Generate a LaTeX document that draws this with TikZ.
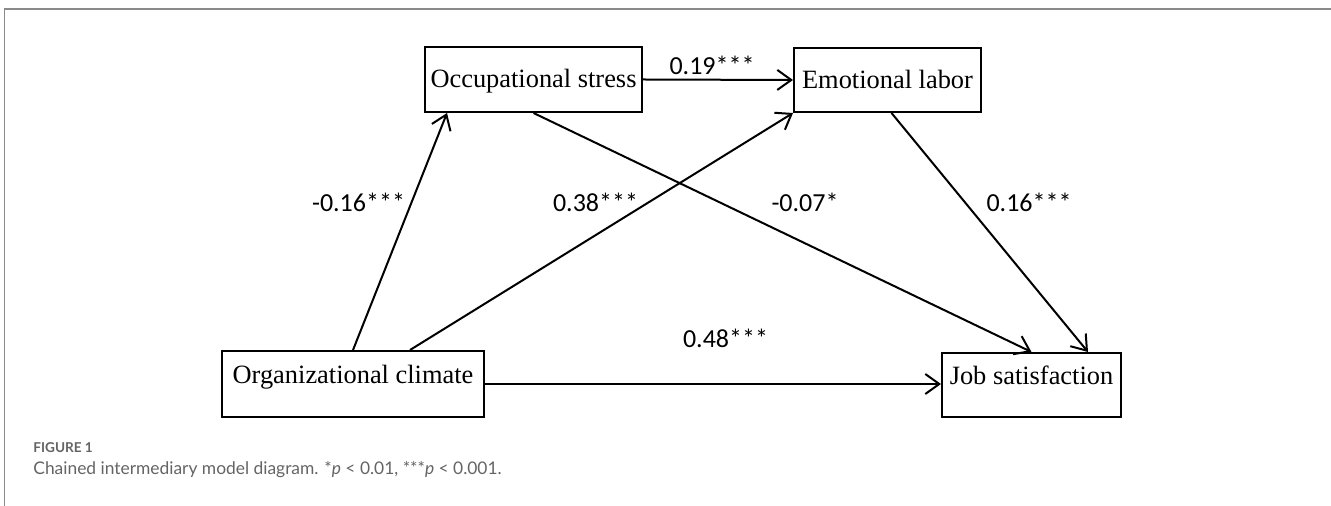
\documentclass[tikz,border=0pt]{standalone}
\usepackage{fontspec}
\setmainfont{Liberation Serif}
\newfontfamily\coeffont{Carlito}
\newfontfamily\capfont{Lato}
\usetikzlibrary{arrows.meta}
\definecolor{framegray}{HTML}{8A8A8A}
\definecolor{capgray}{HTML}{646464}
\begin{document}
\begin{tikzpicture}[x=0.5pt, y=-0.5pt, >={Straight Barb[length=7pt,width=10pt]}]
	\tikzset{box/.style={draw, line width=1pt, inner sep=0pt, font=\fontsize{13.2}{15}\selectfont},
		topbox/.style={box, text height=9pt, text depth=0.5pt},
		lowbox/.style={box, text height=9pt, text depth=9pt},
		path/.style={->, line width=1pt},
		coef/.style={anchor=base, inner sep=0pt, font=\coeffont\fontsize{13}{15}\selectfont}}
	\useasboundingbox (0,0) rectangle (1331,506);
	% --- 1. Khung ---
	\draw[framegray, line width=0.75pt] (4,9) -- (1331,9);
	\draw[framegray, line width=0.5pt] (4,9) -- (4,506);
	% --- 2. Các biến ---
	\node[topbox, minimum width=108.5pt, minimum height=32.5pt] (occ) at (533.5,79.5) {Occupational stress};
	\node[topbox, minimum width=93.5pt, minimum height=32pt] (emo) at (887.5,80) {Emotional labor};
	\node[lowbox, minimum width=131pt, minimum height=33pt] (org) at (353,384) {Organizational climate};
	\node[lowbox, minimum width=89.5pt, minimum height=32pt] (job) at (1031.5,385) {Job satisfaction};
	% --- 3. Các đường tác động ---
	\draw[path] (org.north) -- ([xshift=11.5pt]occ.south west);
	\draw[path] ([xshift=28.5pt]org.north) -- (emo.south west);
	\draw[path] (occ.east) -- (emo.west);
	\draw[path] (occ.south) -- (job.north);
	\draw[path] ([xshift=2pt]emo.south) -- ([xshift=-17pt]job.north east);
	\draw[path] (org.east) -- (org.east -| job.west);
	% --- 4. Hệ số ---
	\node[coef] (c1) at (712,75) {0.19***};
	\node[coef] (c2) at (358.5,212) {-0.16***};
	\node[coef] (c3) at (595.5,212) {0.38***};
	\node[coef] (c4) at (805,212) {-0.07*};
	\node[coef] (c5) at (1029,212) {0.16***};
	\node[coef] (c6) at (725.5,348) {0.48***};
	% --- 5. Chú thích ---
	\node[anchor=base west, inner sep=0pt, text=capgray, font=\capfont\bfseries\fontsize{6.8}{8}\selectfont] (fig) at (33,453) {FIGURE 1};
	\node[anchor=base west, inner sep=0pt, text=capgray, font=\capfont\fontsize{8.7}{10}\selectfont] (cap) at (33,475) {Chained intermediary model diagram. *\textit{p} < 0.01, ***\textit{p} < 0.001.};
\end{tikzpicture}
\end{document}
